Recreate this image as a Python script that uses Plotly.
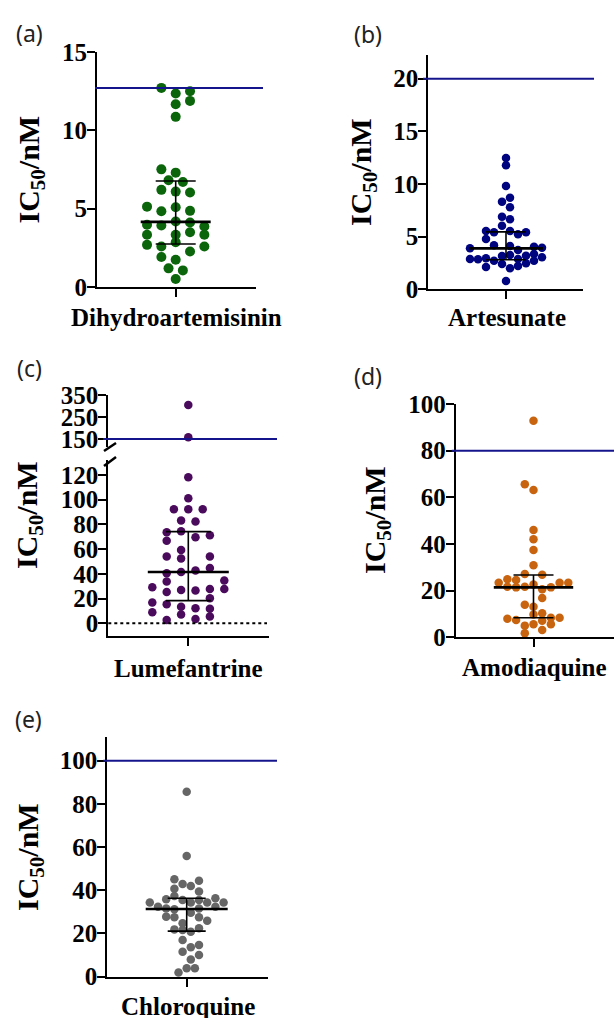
import plotly.graph_objects as go

W, H = 614, 1018

# ---------------- data ----------------
drugs = ["Dihydroartemisinin", "Artesunate", "Lumefantrine", "Amodiaquine", "Chloroquine"]
panel_letters = ["(a)", "(b)", "(c)", "(d)", "(e)"]

dha_ic50 = [12.71, 12.35, 12.5, 11.67, 11.88, 10.86, 7.51, 7.3, 6.81, 6.7, 6.2, 6.09, 6.03,
            5.13, 5.09, 4.84, 4.86, 3.97, 3.93, 4.18, 4.12, 3.86, 3.33, 3.33, 3.5, 3.33,
            2.69, 2.59, 2.86, 2.27, 2.59, 1.91, 1.74, 1.19, 1.06, 0.51]
dha_slot = [-1, 0, 1, 0, 1, 0, -1, 0, -0.5, 0.5, -1, 0, 1,
            -2, 0, -1, 1, -2, -1, 0, 1, 2, -2, 0, 1, 2,
            -2, -1, 0, 1, 2, -1, 0, -0.5, 0.5, 0]

as_ic50 = [12.47, 11.77, 9.81, 8.32, 8.70, 7.79, 6.90, 6.65, 6.04, 5.54, 5.41, 5.54, 5.22,
           5.41, 4.78, 4.18, 3.89, 4.11, 4.05, 3.95, 3.73, 2.88, 2.85, 2.94, 2.72, 3.16,
           3.26, 3.19, 3.35, 3.04, 2.12, 2.40, 1.99, 2.21, 2.47, 2.72, 0.79, 2.88]
as_slot = [0, 0, 0, -0.5, 0.5, 0.5, -0.5, 0.5, -0.5, -2.5, -1.5, 0.5, 1.5,
           2.5, -2.5, -1.5, -4.5, 0.5, 3.5, 4.5, 1.5, -4.5, -3.5, -2.5, -1.5, -0.5,
           0.5, 2.5, 3.5, 4.5, -2.5, -0.5, 0.5, 1.5, 2.5, 3.5, 0, 1.5]

lf_ic50 = [305, 158, 118, 101.1, 92.2, 92.2, 92.2, 83.0, 82.2, 73.6, 74.4, 69.6, 71.2,
           66.8, 59.3, 52.3, 53.9, 53.9, 44.7, 40.4, 41.5, 42.6, 33.7, 34.5, 27.7, 29.1,
           25.3, 26.9, 26.4, 27.7, 20.2, 16.7, 15.4, 8.9, 13.4, 7.0, 12.1, 11.8, 2.7, 3.5, 5.4]
lf_slot = [0, 0, 0, 0, -1, 0, 1, -0.5, 0.5, -1.5, -0.5, 0.5, 1.5,
           -1.5, -0.5, -0.5, -1.5, 1.5, 1.5, -1.5, -0.5, 0.5, -1.5, 2.5, 2.5, -2.5,
           -1.5, -0.5, 0.5, 1.5, 1.5, -2.5, -1.5, -2.5, -0.5, -0.5, 0.5, 1.5, -1.5, 0.5, 1.5]

aq_ic50 = [92.8, 65.6, 63.1, 46.0, 42.0, 37.4, 30.9, 27.1, 26.8, 24.9, 24.6, 23.4, 23.4,
           23.4, 21.7, 21.4, 21.7, 22.6, 20.6, 21.4, 16.8, 14.0, 13.1, 9.8, 10.3, 8.0,
           7.4, 8.4, 8.4, 7.1, 5.0, 5.6, 5.6, 3.1, 1.7]
aq_slot = [0, -1, 0, 0, 0, 0, 0, -1, 1, -3, -2, -4, 3,
           4, -3, -2, -1, 0, 1, 2, 1, -1, 0, 0, 1, -3,
           -2, 2, 3, 1, -1, 0, 2, 1, -1]

cq_ic50 = [85.6, 55.9, 45.1, 42.9, 42.0, 44.4, 40.7, 39.4, 34.3, 32.4, 35.8, 37.3, 35.5,
           34.3, 35.5, 34.3, 36.3, 34.3, 31.6, 31.2, 31.6, 32.4, 27.8, 27.5, 29.6, 27.5,
           25.9, 24.7, 21.9, 21.6, 20.8, 22.4, 17.0, 13.6, 14.7, 11.6, 8.0, 10.0, 3.9, 3.9, 1.9]
cq_slot = [0, 0, -1.5, -0.5, 0.5, 1.5, -1.5, 1.5, -4.5, -3.5, -2.5, -1.5, -0.5,
           0.5, 1.5, 2.5, 3.5, 4.5, -2.5, -1.5, 1.5, 3.5, -2.5, -1.5, 0.5, 1.5,
           2.5, -0.5, -1.5, -0.5, 0.5, 1.5, -0.5, 0.5, 1.5, -0.5, 0.5, 1.5, 0, 1, -1]

# median, lower and upper error-bar ends
medians = [4.16, 3.89, 41.5, 21.4, 31.3]
lower_bar = [2.74, 2.80, 18.3, 8.4, 21.1]
upper_bar = [6.77, 5.45, 74.1, 26.7, 36.3]
cutoffs = [12.7, 20, 150, 80, 100]

values = [dha_ic50, as_ic50, lf_ic50, aq_ic50, cq_ic50]
slots = [dha_slot, as_slot, lf_slot, aq_slot, cq_slot]

ytick_sets = [[0, 5, 10, 15], [0, 5, 10, 15, 20], [0, 20, 40, 60, 80, 100, 120],
              [0, 20, 40, 60, 80, 100], [0, 20, 40, 60, 80, 100]]
lf_upper_ticks = [150, 250, 350]
lf_break = 140  # values above go to the upper axis segment

# ---------------- layout / style (pixel geometry) ----------------
colors = ["#0B650B", "#00047F", "#4B0B5C", "#C86410", "#666666"]
cut_color = "#14148C"
SERIF = "Liberation Serif"

geo = [
    dict(l=97, r=256, cx=175.7, top=52, bot=287, yr=[0, 15], sp=14.33, ms=10,
         lx0=95, lx1=263, mhw=35, chw=20, let=(29, 33), yt=(30, 169.5), xl=(176, 318)),
    dict(l=428.3, r=583, cx=506, top=55, bot=289.3, yr=[0, 22.25], sp=8, ms=8.5,
         lx0=423, lx1=594, mhw=37, chw=20, let=(367.5, 34), yt=(363, 172), xl=(507, 318)),
    dict(l=108.3, r=269.3, cx=188.3, top=460, bot=636, yr=[-10.3, 132], sp=14.4, ms=8.5,
         lx0=103, lx1=277, mhw=40.5, chw=22.5, let=(29, 368), yt=(29, 515), xl=(188.5, 668),
         utop=395, ubot=447.3, uyr=[112.3, 350]),
    dict(l=455.7, r=614, cx=533.5, top=404, bot=637.3, yr=[0, 100], sp=8.7, ms=8.5,
         lx0=451.7, lx1=614, mhw=39.7, chw=20, let=(367.5, 376), yt=(377, 520), xl=(534, 667)),
    dict(l=107.3, r=268.3, cx=186.7, top=737.3, bot=976.7, yr=[0, 110.8], sp=8.2, ms=8.5,
         lx0=103.3, lx1=277, mhw=41, chw=19, let=(28.5, 719), yt=(30, 857), xl=(187.5, 1006)),
]


def px(x):
    return x / W


def py(y):
    return 1 - y / H


fig = go.Figure()
layout = dict(width=W, height=H, margin=dict(l=0, r=0, t=0, b=0, pad=0, autoexpand=False),
              paper_bgcolor="white", plot_bgcolor="rgba(0,0,0,0)", showlegend=False,
              template="none")
shapes, annotations = [], []

axis_common = dict(showline=True, linecolor="black", linewidth=2, showgrid=False,
                   zeroline=False, ticks="outside", tickwidth=2, tickcolor="black",
                   fixedrange=True, automargin=False)
tickfont = dict(family=SERIF, size=25, color="black", weight="bold")

axis_ids = [1, 2, 3, 5, 6]  # panel (c) upper segment uses 4

for i, g in enumerate(geo):
    n = axis_ids[i]
    xa = "x" if n == 1 else f"x{n}"
    ya = "y" if n == 1 else f"y{n}"
    xkey = "xaxis" if n == 1 else f"xaxis{n}"
    ykey = "yaxis" if n == 1 else f"yaxis{n}"

    layout[xkey] = dict(axis_common, domain=[px(g["l"]), px(g["r"])],
                        range=[g["l"] - g["cx"], g["r"] - g["cx"]],
                        tickvals=[0], showticklabels=False, ticklen=8, anchor=ya)
    layout[ykey] = dict(axis_common, domain=[py(g["bot"]), py(g["top"])],
                        range=g["yr"], tickvals=ytick_sets[i], ticklen=8,
                        tickfont=tickfont, anchor=xa, ticklabelstandoff=-5)

    vals, sl = values[i], slots[i]
    xs = [s * g["sp"] for s in sl]
    if i == 2:
        lo = [(x, v) for x, v in zip(xs, vals) if v < lf_break]
        hi = [(x, v) for x, v in zip(xs, vals) if v >= lf_break]
        # upper segment axis
        layout["xaxis4"] = dict(domain=[px(g["l"]), px(g["r"])],
                                range=[g["l"] - g["cx"], g["r"] - g["cx"]],
                                visible=False, anchor="y4", fixedrange=True, automargin=False)
        layout["yaxis4"] = dict(axis_common, domain=[py(g["ubot"]), py(g["utop"])],
                                range=g["uyr"], tickvals=lf_upper_ticks, ticklen=8,
                                tickfont=tickfont, anchor="x4", ticklabelstandoff=-5)
        fig.add_trace(go.Scatter(x=[p[0] for p in hi], y=[p[1] for p in hi], mode="markers",
                                 marker=dict(size=g["ms"], color=colors[i]),
                                 xaxis="x4", yaxis="y4", cliponaxis=False, hoverinfo="y"))
        fig.add_trace(go.Scatter(x=[p[0] for p in lo], y=[p[1] for p in lo], mode="markers",
                                 marker=dict(size=g["ms"], color=colors[i]),
                                 xaxis=xa, yaxis=ya, cliponaxis=False, hoverinfo="y"))
        cut_ref = "y4"
        # dotted zero line
        shapes.append(dict(type="line", xref="paper", yref=ya, x0=px(g["l"]), x1=px(267),
                           y0=0, y1=0, line=dict(color="black", width=2, dash="dot")))
        # axis break marks
        for (a0, b0, a1, b1) in [(104, 451, 116, 443), (104, 466, 116, 457)]:
            shapes.append(dict(type="line", xref="paper", yref="paper",
                               x0=px(a0), y0=py(b0), x1=px(a1), y1=py(b1),
                               line=dict(color="black", width=2.5)))
    else:
        fig.add_trace(go.Scatter(x=xs, y=vals, mode="markers",
                                 marker=dict(size=g["ms"], color=colors[i]),
                                 xaxis=xa, yaxis=ya, cliponaxis=False, hoverinfo="y"))
        cut_ref = ya

    # median + error bars
    med, lo_b, up_b = medians[i], lower_bar[i], upper_bar[i]
    fig.add_trace(go.Scatter(
        x=[0, 0, None, -g["chw"], g["chw"], None, -g["chw"], g["chw"]],
        y=[lo_b, up_b, None, lo_b, lo_b, None, up_b, up_b],
        mode="lines", line=dict(color="black", width=1.6), xaxis=xa, yaxis=ya,
        hoverinfo="skip"))
    fig.add_trace(go.Scatter(x=[-g["mhw"], g["mhw"]], y=[med, med], mode="lines",
                             line=dict(color="black", width=2.6), xaxis=xa, yaxis=ya,
                             hoverinfo="skip"))

    # cut-off line
    shapes.append(dict(type="line", xref="paper", yref=cut_ref, x0=px(g["lx0"]),
                       x1=px(g["lx1"]), y0=cutoffs[i], y1=cutoffs[i],
                       line=dict(color=cut_color, width=2)))

    # texts
    annotations.append(dict(text=panel_letters[i], x=px(g["let"][0]), y=py(g["let"][1]),
                            xref="paper", yref="paper", showarrow=False,
                            xanchor="center", yanchor="middle",
                            font=dict(family="Noto Sans", size=23, color="#222222")))
    annotations.append(dict(text="IC<sub>50</sub>/nM", x=px(g["yt"][0]), y=py(g["yt"][1]),
                            xref="paper", yref="paper", showarrow=False, textangle=-90,
                            xanchor="center", yanchor="middle",
                            font=dict(family=SERIF, size=30, color="black", weight="bold")))
    annotations.append(dict(text=drugs[i], x=px(g["xl"][0]), y=py(g["xl"][1]),
                            xref="paper", yref="paper", showarrow=False,
                            xanchor="center", yanchor="middle",
                            font=dict(family=SERIF, size=25, color="black", weight="bold")))

layout["shapes"] = shapes
layout["annotations"] = annotations
fig.update_layout(**layout)
fig.write_html("out.html")
